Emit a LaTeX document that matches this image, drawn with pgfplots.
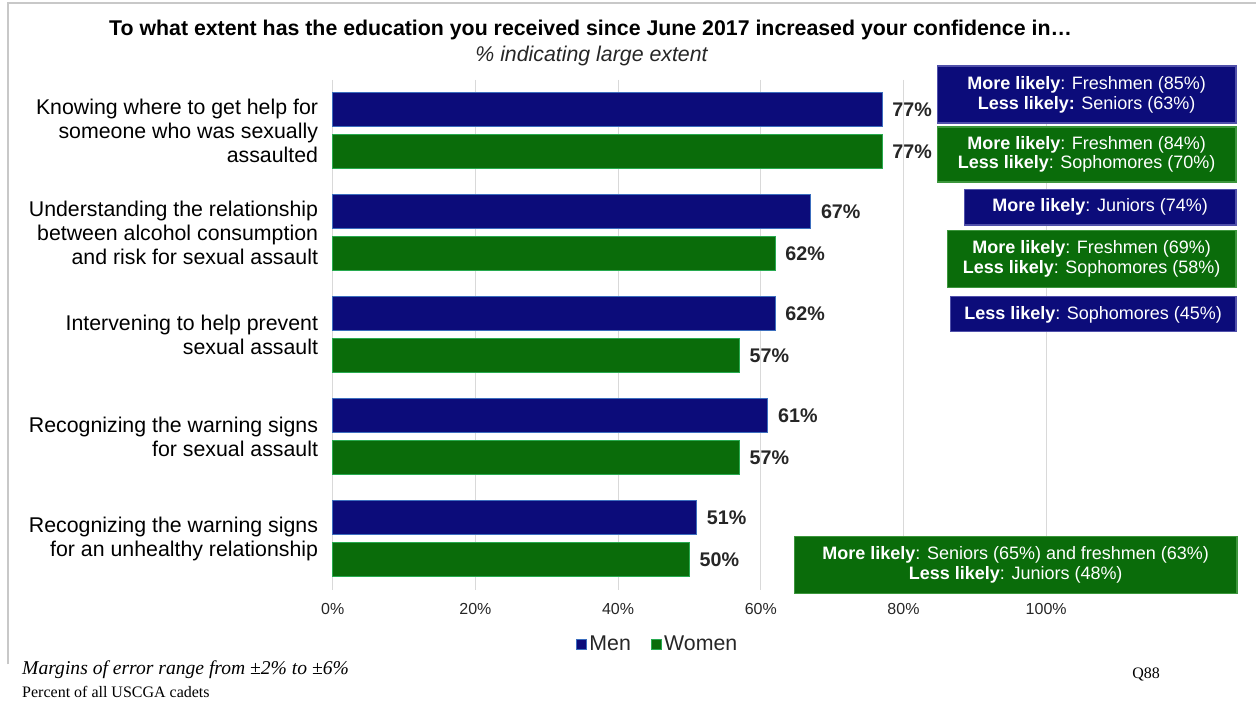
\documentclass[border=0pt]{standalone}
\usepackage{fontspec}
\setmainfont{Liberation Sans}
\newfontfamily\timesfont{Liberation Serif}
\usepackage{pgfplots}
\pgfplotsset{compat=1.18}
\definecolor{navy}{RGB}{12,12,122}
\definecolor{navyedge}{RGB}{60,110,190}
\definecolor{dgreen}{RGB}{10,108,10}
\definecolor{greenedge}{RGB}{40,170,80}
\definecolor{boxnavyedge}{RGB}{80,80,170}
\definecolor{boxgreenedge}{RGB}{60,150,60}
\definecolor{txt}{RGB}{38,38,38}
\definecolor{gridc}{RGB}{217,217,217}
\definecolor{framec}{RGB}{200,200,200}
\begin{document}
\begin{tikzpicture}[x=0.75pt,y=-0.75pt]
\path (0,0) rectangle (1257,708);
\draw[framec, line width=1.5pt] (8,665) -- (8,3) -- (1257,3);
\node[font=\fontsize{16}{19}\selectfont\bfseries, text=black] at (591,30) {To what extent has the education you received since June 2017 increased your confidence in…};
\node[font=\fontsize{16}{19}\selectfont\itshape, text=txt] at (592,56) {\% indicating large extent};
\coordinate (O) at (333,590);
\begin{axis}[
  at={(O)}, anchor=south west,
  scale only axis, width=535.5pt, height=382.5pt,
  xmin=0, xmax=100, ymin=-0.5, ymax=4.5, y dir=reverse,
  xbar, bar width=25.5pt, clip=false,
  axis line style={draw=none}, major tick length=0pt,
  xmajorgrids, major grid style={gridc, line width=0.75pt},
  xtick={0,20,40,60,80,100},
  xticklabels={0\%,20\%,40\%,60\%,80\%,100\%},
  xticklabel style={font=\fontsize{12}{14}\selectfont, text=txt, yshift=-7pt},
  ytick={0,1,2,3,4},
  yticklabels={{Knowing where to get help for\\someone who was sexually\\assaulted},
               {Understanding the relationship\\between alcohol consumption\\and risk for sexual assault},
               {Intervening to help prevent\\sexual assault},
               {Recognizing the warning signs\\for sexual assault},
               {Recognizing the warning signs\\for an unhealthy relationship}},
  yticklabel style={align=right, font=\fontsize{16}{18}\selectfont, text=black, xshift=-7.5pt},
  point meta=x,
  nodes near coords={\pgfmathprintnumber[fixed,precision=0,assume math mode=true]{\pgfplotspointmeta}\%},
  every node near coord/.append style={font=\fontsize{14.8}{17}\selectfont\bfseries, text=txt, anchor=west, xshift=4pt},
  legend style={at={(0.456,-0.108)}, anchor=center, draw=none, legend columns=2,
     font=\fontsize{16}{19}\selectfont, text=txt,
     /tikz/every even column/.append style={column sep=13pt}},
  legend image code/.code={\draw[#1, line width=0.5pt] (0pt,-3.75pt) rectangle (7.5pt,3.75pt);},
]
\addplot[fill=navy, draw=navyedge, line width=0.75pt, bar shift=15.75pt] coordinates {(77,0) (67,1) (62,2) (61,3) (51,4)};
\addplot[fill=dgreen, draw=greenedge, line width=0.75pt, bar shift=-15.75pt] coordinates {(77,0) (62,1) (57,2) (57,3) (50,4)};
\legend{Men,Women}
\tikzset{bx/.style={font=\fontsize{13.5}{15}\selectfont, text=white, align=center}}
\draw[fill=navy, draw=boxnavyedge, line width=1pt] (axis cs:84.73,-0.637) rectangle (axis cs:126.61,-0.078);
\node[bx] at (axis cs:105.67,-0.358) {\textbf{More likely}: Freshmen (85\%)\\\textbf{Less likely:} Seniors (63\%)};
\draw[fill=dgreen, draw=boxgreenedge, line width=1pt] (axis cs:84.73,-0.039) rectangle (axis cs:126.61,0.5);
\node[bx] at (axis cs:105.67,0.23) {\textbf{More likely}: Freshmen (84\%)\\\textbf{Less likely}: Sophomores (70\%)};
\draw[fill=navy, draw=boxnavyedge, line width=1pt] (axis cs:88.52,0.578) rectangle (axis cs:126.61,0.922);
\node[bx] at (axis cs:107.57,0.75) {\textbf{More likely}: Juniors (74\%)};
\draw[fill=dgreen, draw=boxgreenedge, line width=1pt] (axis cs:86.13,0.98) rectangle (axis cs:126.61,1.539);
\node[bx] at (axis cs:106.37,1.26) {\textbf{More likely}: Freshmen (69\%)\\\textbf{Less likely}: Sophomores (58\%)};
\draw[fill=navy, draw=boxnavyedge, line width=1pt] (axis cs:86.55,1.627) rectangle (axis cs:126.61,1.971);
\node[bx] at (axis cs:106.58,1.80) {\textbf{Less likely}: Sophomores (45\%)};
\draw[fill=dgreen, draw=boxgreenedge, line width=1pt] (axis cs:64.71,3.98) rectangle (axis cs:126.75,4.539);
\node[bx] at (axis cs:95.73,4.26) {\textbf{More likely}: Seniors (65\%) and freshmen (63\%)\\\textbf{Less likely}: Juniors (48\%)};
\end{axis}
\node[anchor=west, inner sep=0pt, font={\timesfont\itshape\fontsize{14.7}{17}\selectfont}, text=black] at (22,670) {Margins of error range from ±2\% to ±6\%};
\node[anchor=west, inner sep=0pt, font={\timesfont\fontsize{12}{14}\selectfont}, text=black] at (22,692) {Percent of all USCGA cadets};
\node[font={\timesfont\fontsize{12}{14}\selectfont}, text=black] at (1147,675) {Q88};
\end{tikzpicture}
\end{document}
